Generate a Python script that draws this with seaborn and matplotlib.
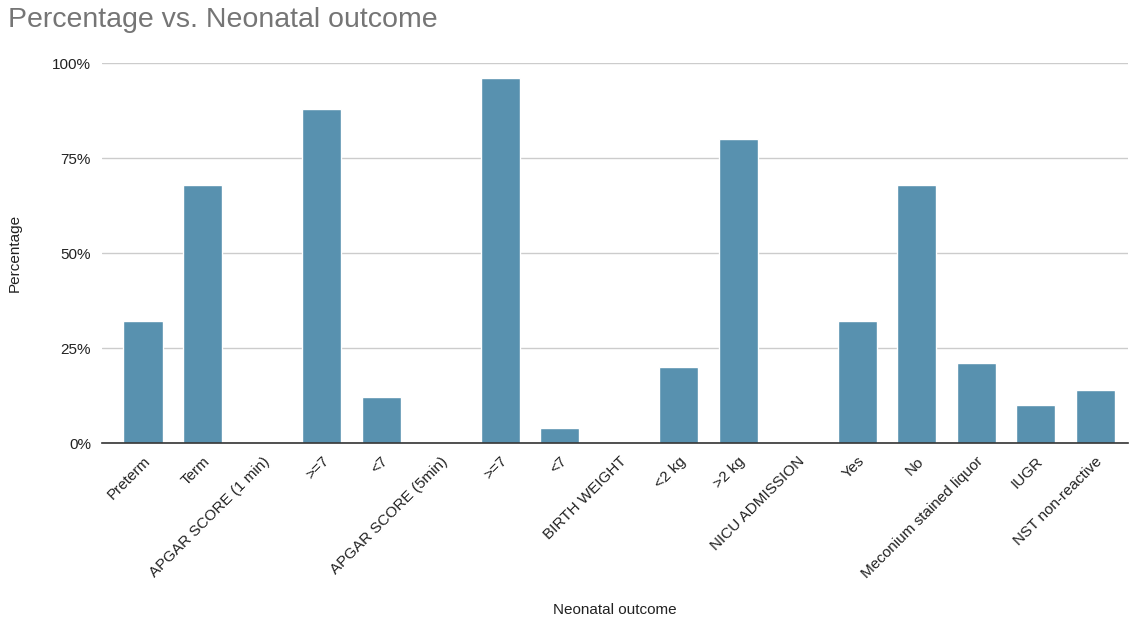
import matplotlib
matplotlib.use("Agg")
import matplotlib.pyplot as plt
import seaborn as sns
import pandas as pd
from matplotlib.ticker import FuncFormatter

categories = ["Preterm", "Term", "APGAR SCORE (1 min)", ">=7", "<7",
              "APGAR SCORE (5min)", ">=7", "<7", "BIRTH WEIGHT", "<2 kg",
              ">2 kg", "NICU ADMISSION", "Yes", "No",
              "Meconium stained liquor", "IUGR", "NST non-reactive"]
values = [32, 68, 0, 88, 12, 0, 96, 4, 0, 20, 80, 0, 32, 68, 21, 10, 14]

sns.set_theme(style="white")
plt.rcParams['font.family'] = ['Liberation Sans', 'DejaVu Sans']

df = pd.DataFrame({"pos": list(range(len(categories))), "value": [v / 100 for v in values]})

fig = plt.figure(figsize=(11.3, 6.18), dpi=100)
ax = fig.add_axes([0.0903, 0.283, 0.908, 0.615])
sns.barplot(data=df, x="pos", y="value", native_scale=True, color="#5891AF",
            saturation=1, width=0.66, ax=ax, zorder=3)

ax.set_xlim(-0.69, 16.55)
ax.set_ylim(0, 1.0)
ax.set_yticks([0, 0.25, 0.5, 0.75, 1.0])
ax.yaxis.set_major_formatter(FuncFormatter(lambda v, p: f"{int(round(v*100))}%"))
ax.grid(axis="y", color="#cccccc", linewidth=1, zorder=0)
ax.set_axisbelow(True)
for s in ["top", "right", "left"]:
    ax.spines[s].set_visible(False)
ax.spines["bottom"].set_color("#333333")
ax.spines["bottom"].set_linewidth(1.2)
ax.spines["bottom"].set_zorder(4)

ax.set_xticks(df["pos"])
ax.set_xticklabels(categories, rotation=45, ha="right", rotation_mode="anchor",
                   fontsize=11, color="#222222")
ax.tick_params(axis="x", length=0, pad=8)
ax.tick_params(axis="y", length=0, labelsize=11, labelcolor="#222222", pad=8)

ax.set_xlabel("Neonatal outcome", fontsize=11, color="#222222", labelpad=16)
ax.set_ylabel("Percentage", fontsize=11, color="#222222", labelpad=22)

fig.text(0.007, 0.988, "Percentage vs. Neonatal outcome", fontsize=20.5,
         color="#757575", va="top", ha="left")

fig.savefig("out.png", dpi=100)
